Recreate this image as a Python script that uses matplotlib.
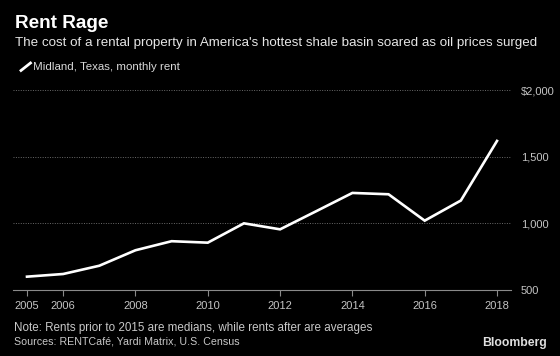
import matplotlib
matplotlib.use("Agg")
import matplotlib.pyplot as plt
from matplotlib.lines import Line2D

years = [2005, 2006, 2007, 2008, 2009, 2010, 2011, 2012, 2013, 2014, 2015, 2016, 2017, 2018]
rent = [600, 620, 682, 798, 866, 855, 1000, 955, 1091, 1228, 1218, 1020, 1171, 1618]
xticks = [2005, 2006, 2008, 2010, 2012, 2014, 2016, 2018]
yticks = [500, 1000, 1500, 2000]
ytick_labels = ["500", "1,000", "1,500", "$2,000"]

FONT = ['Liberation Sans', 'DejaVu Sans']
plt.rcParams['font.family'] = FONT

W, H = 560, 356
fig = plt.figure(figsize=(5.6, 3.56), dpi=100, facecolor='black')
ax = fig.add_axes([13/W, 1-290/H, (511-13)/W, 200/H], facecolor='black')

ax.plot(years, rent, color='white', lw=1.9, solid_joinstyle='miter')
ax.set_xlim(2004.613, 2018.387)
ax.set_ylim(500, 2000)

ax.set_xticks(xticks)
ax.set_xticklabels([str(x) for x in xticks])
ax.set_yticks(yticks)
ax.set_yticklabels(ytick_labels)
ax.yaxis.tick_right()
ax.tick_params(axis='y', length=0, pad=7, labelcolor='#c4c4c4', labelsize=8)
ax.tick_params(axis='x', length=4, width=0.8, color='#8a8a8a', pad=4, labelcolor='#c4c4c4', labelsize=8)

for s in ['top', 'left', 'right']:
    ax.spines[s].set_visible(False)
ax.spines['bottom'].set_color('#8a8a8a')
ax.spines['bottom'].set_linewidth(0.8)
ax.set_axisbelow(True)
ax.grid(axis='y', color='#6a6a6a', linestyle=(0, (1, 1.5)), linewidth=0.7)
ax.grid(axis='x', visible=False)

renderer = fig.canvas.get_renderer()

def fit_text(s, x, y, width, size, ha='left', **kw):
    t = fig.text(x/W, 1-y/H, s, fontsize=size, va='center', ha=ha, **kw)
    w = t.get_window_extent(renderer=renderer).width
    t.set_fontsize(size * width / w)
    return t

fit_text("Rent Rage", 15, 23, 94, 13, color='white', fontweight='bold')
fit_text("The cost of a rental property in America's hottest shale basin soared as oil prices surged",
         15, 43, 522, 10, color='#e6e6e6')
fig.add_artist(Line2D([21/W, 30.5/W], [1-70.5/H, 1-63/H], color='white', lw=2,
                      transform=fig.transFigure))
fit_text("Midland, Texas, monthly rent", 33, 67, 145, 8.5, color='#d9d9d9')
fit_text("Note: Rents prior to 2015 are medians, while rents after are averages",
         14, 328, 355, 8.5, color='#c8c8c8')
fit_text("Sources: RENTCafé, Yardi Matrix, U.S. Census", 14, 341, 223, 8.5, color='#c8c8c8')
fit_text("Bloomberg", 547, 343, 65, 10, ha='right', color='#e0e0e0', fontweight='bold')

fig.savefig("out.png", dpi=100, facecolor='black')
